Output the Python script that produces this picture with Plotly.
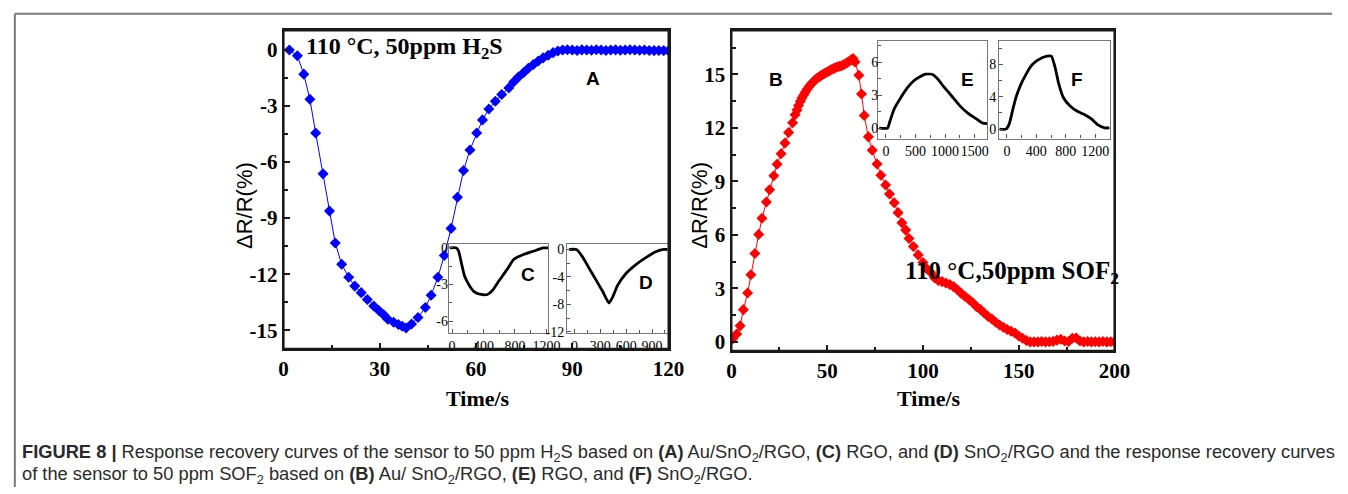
import plotly.graph_objects as go

W, H = 1348, 494


def px(x):
    return x / W


def py(y):
    return 1 - y / H


# ---------------- data ----------------
# (A) Au/SnO2/RGO, 50 ppm H2S
time_A = [1.8, 4.3, 6.3, 8.2, 10.0, 12.3, 14.3, 16.1, 18.1, 20.3, 22.2, 24.2, 26.1, 28.1,
          29.7, 31.2, 32.5, 34.3, 35.8, 37.0, 38.2, 39.9, 41.9, 44.2, 46.0, 48.1, 50.1,
          52.2, 54.2, 56.1, 58.1, 60.2, 62.0, 64.0, 66.0, 68.0, 70.2, 71.7, 73.2, 74.8,
          76.3, 77.9, 79.4, 80.9, 82.5, 84.0, 85.5, 87.0, 88.5, 90.0, 91.5, 93.0, 94.5,
          96.0, 97.5, 99.0, 100.5, 102.0, 103.5, 105.0, 106.5, 108.0, 109.5, 111.0,
          112.5, 114.0, 115.5, 117.0, 118.5, 120.0]
resp_A = [0.0, -0.31, -1.29, -2.64, -4.44, -6.63, -8.62, -10.33, -11.47, -12.17, -12.64,
          -12.99, -13.36, -13.71, -13.95, -14.18, -14.41, -14.58, -14.70, -14.79, -14.88,
          -14.67, -14.32, -13.79, -13.13, -12.17, -11.0, -9.55, -7.88, -6.45, -5.35,
          -4.44, -3.74, -3.16, -2.74, -2.38, -2.03, -1.71, -1.45, -1.21, -0.98, -0.77,
          -0.59, -0.42, -0.28, -0.14, -0.05, 0.0, 0.02, 0.0, -0.02, 0.01, 0.0, -0.01,
          0.02, 0.0, -0.02, 0.0, 0.01, -0.01, 0.0, 0.02, 0.0, -0.01, 0.0, -0.02, -0.03,
          -0.02, -0.03, -0.04]

# (B) Au/SnO2/RGO, 50 ppm SOF2
time_B = [0.5, 2.7, 4.5, 6.2, 8.4, 10.1, 12.2, 14.2, 15.9, 18.2, 19.9, 22.1, 23.8, 25.9,
          27.9, 29.8, 31.9, 33.2, 34.2, 35.0, 36.0, 36.8, 37.7, 38.6, 39.5, 40.5, 41.5,
          42.5, 43.5, 44.5, 45.5, 46.5, 47.5, 48.5, 49.5, 50.5, 51.5, 52.5, 53.5, 54.5,
          55.5, 56.5, 57.5, 58.5, 59.5, 60.5, 61.5, 62.5, 63.5, 64.5, 66.5, 67.9, 69.3,
          71.5, 73.5, 76.0, 78.0, 80.5, 82.5, 85.0, 87.0, 89.0, 91.0, 92.7, 95.0, 97.5,
          100.0, 102.0, 104.0, 106.0, 108.0, 110.0, 112.0, 114.0, 116.0, 118.0, 120.0,
          122.0, 124.0, 126.0, 128.0, 130.0, 132.0, 134.0, 136.0, 138.0, 140.0, 142.0,
          144.0, 146.0, 148.0, 150.0, 152.0, 154.0, 156.0, 158.0, 160.0, 162.0, 164.0,
          166.0, 168.0, 170.0, 172.0, 174.0, 176.0, 178.0, 180.0, 182.0, 184.0, 186.0,
          188.0, 190.0, 192.0, 194.0, 196.0, 198.0, 200.0]
resp_B = [0.16, 0.44, 0.9, 1.81, 2.74, 3.77, 4.96, 6.03, 6.94, 7.85, 8.53, 9.32, 9.96,
          10.55, 11.15, 11.75, 12.29, 12.74, 13.0, 13.26, 13.5, 13.68, 13.85, 14.02, 14.17,
          14.32, 14.45, 14.57, 14.67, 14.77, 14.84, 14.92, 14.98, 15.05, 15.11, 15.17,
          15.23, 15.29, 15.34, 15.39, 15.43, 15.46, 15.49, 15.54, 15.6, 15.67, 15.74,
          15.82, 15.9, 15.7, 14.96, 13.9, 12.7, 11.5, 10.75, 9.98, 9.35, 8.8, 8.3, 7.8,
          7.25, 6.68, 6.27, 5.8, 5.35, 4.88, 4.45, 4.1, 3.9, 3.6, 3.45, 3.38, 3.3, 3.22,
          3.1, 2.92, 2.72, 2.55, 2.38, 2.2, 1.98, 1.82, 1.62, 1.42, 1.28, 1.1, 0.95, 0.82,
          0.7, 0.6, 0.5, 0.33, 0.2, 0.08, 0.0, 0.0, 0.0, 0.02, 0.0, 0.01, 0.03, 0.1, 0.15,
          0.05, 0.02, 0.2, 0.22, 0.05, 0.0, 0.02, 0.0, 0.01, 0.0, 0.02, 0.0, 0.01, 0.0]

# (C) RGO, H2S
time_C = [-30, 54, 83, 117, 158, 221, 283, 367, 450, 512, 596, 700, 783, 908, 1033, 1158, 1220]
resp_C = [0.0, 0.0, -0.27, -1.2, -2.3, -3.1, -3.6, -3.82, -3.82, -3.5, -2.7, -1.76, -0.95,
          -0.54, -0.27, 0.0, 0.0]

# (D) SnO2/RGO, H2S
time_D = [-61, 23, 100, 176, 253, 330, 400, 445, 502, 598, 713, 828, 943, 1020, 1085]
resp_D = [0.0, 0.0, -1.19, -2.86, -4.5, -6.17, -7.8, -6.9, -5.2, -3.5, -2.2, -1.19, -0.33,
          0.0, 0.0]

# (E) RGO, SOF2
time_E = [-112, 28, 72, 139, 250, 361, 472, 583, 667, 778, 861, 972, 1111, 1250, 1389,
          1528, 1639, 1712]
resp_E = [0.0, 0.0, 0.69, 1.73, 2.77, 3.67, 4.33, 4.72, 4.92, 4.92, 4.57, 3.82, 2.93,
          2.03, 1.34, 0.84, 0.45, 0.4]

# (F) SnO2/RGO, SOF2
time_F = [-103, -13, 31, 75, 121, 188, 255, 322, 389, 478, 545, 604, 658, 702, 769, 859,
          970, 1060, 1149, 1239, 1329, 1396]
resp_F = [0.0, 0.0, 0.65, 2.27, 3.88, 5.5, 6.7, 7.72, 8.33, 8.81, 9.02, 9.02, 7.52, 5.7,
          3.88, 2.87, 2.14, 1.78, 1.26, 0.53, 0.15, 0.15]

# tick labels
ticks_A_y = [0, -3, -6, -9, -12, -15]
ticktext_A_y = ["0", "-3", "-6", "-9", "-12", "-15"]
ticks_C_y = [0, -3, -6]
ticktext_C_y = ["0", "-3", "-6"]
ticks_D_y = [0, -4, -8, -12]
ticktext_D_y = ["0", "-4", "-8", "-12"]

# ---------------- figure ----------------
fig = go.Figure()

fig.add_trace(go.Scatter(x=time_A, y=resp_A, mode="lines+markers", xaxis="x", yaxis="y",
                         line=dict(color="#0000ff", width=1),
                         marker=dict(symbol="diamond", size=8.5, color="#0000ff")))
fig.add_trace(go.Scatter(x=time_B, y=resp_B, mode="lines+markers", xaxis="x2", yaxis="y2",
                         line=dict(color="#ff0000", width=1),
                         marker=dict(symbol="diamond", size=8.5, color="#ff0000")))
for xs, ys, xa, ya in [(time_C, resp_C, "x3", "y3"), (time_D, resp_D, "x4", "y4"),
                       (time_E, resp_E, "x5", "y5"), (time_F, resp_F, "x6", "y6")]:
    fig.add_trace(go.Scatter(x=xs, y=ys, mode="lines", xaxis=xa, yaxis=ya,
                             line=dict(color="black", width=2.8, shape="spline", smoothing=0.5)))

serif_b = dict(family="Liberation Serif, Times New Roman, serif", size=21, color="black", weight="bold")
serif_s = dict(family="Liberation Serif, Times New Roman, serif", size=14, color="black")


def main_axis(domain, rng, anchor, **kw):
    d = dict(domain=domain, range=rng, anchor=anchor, showgrid=False, zeroline=False,
             showline=True, linecolor="#1a1a1a", linewidth=2, mirror=True,
             ticks="inside", ticklen=6, tickwidth=1.5, tickcolor="#1a1a1a", tickangle=0,
             tickfont=serif_b, fixedrange=True)
    d.update(kw)
    return d


def inset_axis(domain, rng, anchor, **kw):
    d = dict(domain=domain, range=rng, anchor=anchor, showgrid=False, zeroline=False,
             showline=True, linecolor="#777777", linewidth=1.3, mirror=True,
             ticks="inside", ticklen=4, tickwidth=1, tickcolor="#555555", tickangle=0,
             tickfont=serif_s, fixedrange=True)
    d.update(kw)
    return d


fig.update_layout(
    width=W, height=H, margin=dict(l=0, r=0, t=0, b=0),
    paper_bgcolor="white", plot_bgcolor="white", showlegend=False,
    xaxis=main_axis([px(283), px(674)], [0, 120], "y", dtick=30, tick0=0,
                    minor=dict(dtick=15, tick0=0, ticks="inside", ticklen=4, tickcolor="#1a1a1a")),
    yaxis=main_axis([py(353), py(28)], [-16.0, 1.05], "x", tickmode="array",
                    tickvals=ticks_A_y, ticktext=ticktext_A_y,
                    minor=dict(tickmode="linear", dtick=1.5, tick0=0, ticks="inside", ticklen=4,
                               tickcolor="#1a1a1a")),
    xaxis2=main_axis([px(738), px(1127)], [0, 200], "y2", dtick=50, tick0=0,
                     minor=dict(dtick=25, tick0=0, ticks="inside", ticklen=4, tickcolor="#1a1a1a")),
    yaxis2=main_axis([py(355), py(28)], [-0.5, 17.47], "x2", dtick=3, tick0=0,
                     minor=dict(dtick=1.5, tick0=0, ticks="inside", ticklen=4, tickcolor="#1a1a1a")),
    xaxis3=inset_axis([px(451), px(552)], [-40, 1225], "y3", dtick=400, tick0=0,
                      minor=dict(dtick=200, tick0=0, ticks="inside", ticklen=3)),
    yaxis3=inset_axis([py(337), py(246)], [-7.0, 0.32], "x3", tickmode="array",
                      tickvals=ticks_C_y, ticktext=ticktext_C_y, ticklabelstandoff=-3,
                      minor=dict(tickmode="linear", dtick=1.5, tick0=0, ticks="inside", ticklen=3)),
    xaxis4=inset_axis([px(571), px(673)], [-85, 1080], "y4", dtick=300, tick0=0,
                      minor=dict(dtick=150, tick0=0, ticks="inside", ticklen=3)),
    yaxis4=inset_axis([py(337), py(246)], [-12.2, 0.8], "x4", tickmode="array",
                      tickvals=ticks_D_y, ticktext=ticktext_D_y, ticklabelstandoff=-1,
                      minor=dict(tickmode="linear", dtick=2, tick0=0, ticks="inside", ticklen=3)),
    xaxis5=inset_axis([px(887), px(997.7)], [-130, 1710], "y5", dtick=500, tick0=0,
                      minor=dict(dtick=250, tick0=0, ticks="inside", ticklen=3)),
    yaxis5=inset_axis([py(138.3), py(38.3)], [-0.95, 8.0], "x5", dtick=3, tick0=0,
                      ticklabelstandoff=-4,
                      minor=dict(dtick=1.5, tick0=0, ticks="inside", ticklen=3)),
    xaxis6=inset_axis([px(1010), px(1122.3)], [-105, 1400], "y6", dtick=400, tick0=0,
                      minor=dict(dtick=200, tick0=0, ticks="inside", ticklen=3)),
    yaxis6=inset_axis([py(138.3), py(38.3)], [-1.16, 10.95], "x6", dtick=4, tick0=0,
                      ticklabelstandoff=-1,
                      minor=dict(dtick=2, tick0=0, ticks="inside", ticklen=3)),
)

ann = []
sans = "Liberation Sans, Arial, sans-serif"
serif = "Liberation Serif, Times New Roman, serif"


def add(text, x, y, size, family, bold=False, xanchor="center", yanchor="middle", angle=0,
        color="black"):
    ann.append(dict(text=text, x=px(x), y=py(y), xref="paper", yref="paper",
                    xanchor=xanchor, yanchor=yanchor, showarrow=False, textangle=angle,
                    align="left" if xanchor == "left" else "center",
                    font=dict(family=family, size=size, color=color,
                              weight="bold" if bold else "normal")))


add("ΔR/R(%)", 244, 207, 22, sans, angle=-90)
add("ΔR/R(%)", 706, 207, 22, sans, angle=-90)
add("Time/s", 480, 404, 22, serif, bold=True)
add("Time/s", 939, 404, 22, serif, bold=True)
add("110 °C, 50ppm H<sub>2</sub>S", 304, 46, 24, serif, bold=True, xanchor="left")
add("110 °C,50ppm SOF<sub>2</sub>", 912, 275, 25, serif, bold=True, xanchor="left")
add("A", 597, 77, 19, sans, bold=True)
add("B", 783, 78, 19, sans, bold=True)
add("C", 531, 277, 19, sans, bold=True)
add("D", 651, 285, 19, sans, bold=True)
add("E", 978, 78, 19, sans, bold=True)
add("F", 1089, 78, 19, sans, bold=True)

cap1 = ("<b>FIGURE 8 |</b> Response recovery curves of the sensor to 50 ppm H<sub>2</sub>S based on "
        "<b>(A)</b> Au/SnO<sub>2</sub>/RGO, <b>(C)</b> RGO, and <b>(D)</b> SnO<sub>2</sub>/RGO and the "
        "response recovery curves")
cap2 = ("of the sensor to 50 ppm SOF<sub>2</sub> based on <b>(B)</b> Au/ SnO<sub>2</sub>/RGO, "
        "<b>(E)</b> RGO, and <b>(F)</b> SnO<sub>2</sub>/RGO.")
add(cap1, 15, 459, 18.3, sans, xanchor="left", color="#2a2a2a")
add(cap2, 15, 482, 18.3, sans, xanchor="left", color="#2a2a2a")

fig.update_layout(annotations=ann)

# figure box (left and top edges of the article frame)
fig.add_shape(type="line", xref="paper", yref="paper", x0=px(10), x1=1, y0=py(11), y1=py(11),
              line=dict(color="#7a7a7a", width=2))
fig.add_shape(type="line", xref="paper", yref="paper", x0=px(10), x1=px(10), y0=py(11), y1=0,
              line=dict(color="#7a7a7a", width=2))
# main panel frames
for xa, ya in [("x", "y"), ("x2", "y2")]:
    fig.add_shape(type="rect", xref=xa + " domain", yref=ya + " domain", x0=0, x1=1, y0=0, y1=1,
                  line=dict(color="#1a1a1a", width=2), fillcolor="rgba(0,0,0,0)", layer="above")

fig.write_html("out.html", config={"displayModeBar": False},
               post_script="document.body.style.margin='0';document.body.style.overflow='hidden';")
